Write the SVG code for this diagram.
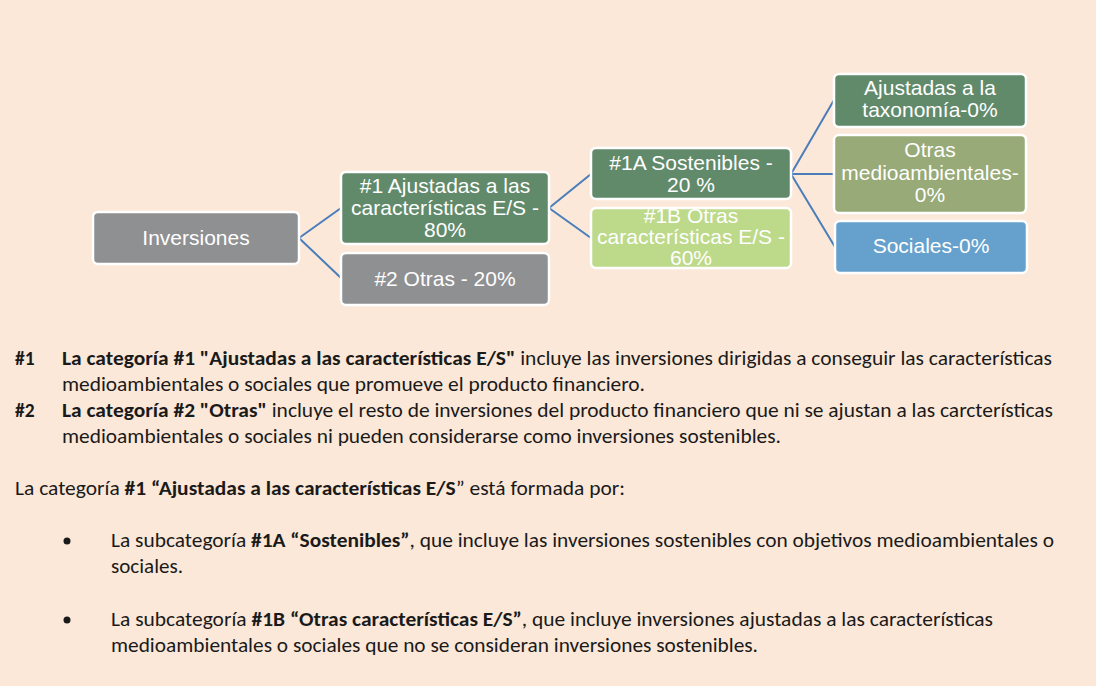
<svg xmlns="http://www.w3.org/2000/svg" width="1096" height="686" viewBox="0 0 1096 686">
<style>
.box{stroke:#FFFFFF;stroke-width:2.5}
.gray{fill:#8F9092}
.dg{fill:#618A6B}
.lg{fill:#BDD98A}
.ol{fill:#97AA77}
.bl{fill:#66A1CD}
.nt{font-family:"Liberation Sans",Arial,sans-serif;font-size:21px;fill:#FFFFFF;text-anchor:middle}
.con{stroke:#4A7EBB;stroke-width:2;fill:none}
.bt{font-family:Carlito,Calibri,Lato,"Open Sans",sans-serif;font-size:19.5px;fill:#1a1a1a}
.b{font-weight:bold}
</style>
<defs>
<clipPath id="c1b"><rect x="591" y="208" width="200" height="60" rx="5"/></clipPath>
</defs>
<rect x="0" y="0" width="1096" height="686" fill="#FBE8D8"/>
<g id="connectors">
<path class="con" d="M299,238 L341,208 M299,238 L341,278"/>
<path class="con" d="M549,208 L591,174 M549,208 L591,238"/>
<path class="con" d="M791,174 L834,100 M791,174 L834,174 M791,174 L835,247"/>
</g>
<g id="inversiones">
<rect class="box gray" x="93" y="212" width="206" height="52" rx="5"/>
<text class="nt" x="196" y="245">Inversiones</text>
</g>
<g id="n1">
<rect class="box dg" x="341" y="172" width="208" height="72" rx="5"/>
<text class="nt" x="445" y="193">#1 Ajustadas a las</text>
<text class="nt" x="445" y="215">características E/S -</text>
<text class="nt" x="445" y="237">80%</text>
</g>
<g id="n2">
<rect class="box gray" x="341" y="253" width="208" height="52" rx="5"/>
<text class="nt" x="445" y="286">#2 Otras - 20%</text>
</g>
<g id="n1a">
<rect class="box dg" x="591" y="148" width="200" height="51" rx="5"/>
<text class="nt" x="691" y="170">#1A Sostenibles -</text>
<text class="nt" x="691" y="192">20 %</text>
</g>
<g id="n1b">
<rect class="box lg" x="591" y="208" width="200" height="60" rx="5"/>
<g clip-path="url(#c1b)">
<text class="nt" x="691" y="223">#1B Otras</text>
<text class="nt" x="691" y="244">características E/S -</text>
<text class="nt" x="691" y="265">60%</text>
</g>
</g>
<g id="taxonomia">
<rect class="box dg" x="834" y="74" width="192" height="53" rx="5"/>
<text class="nt" x="930" y="95">Ajustadas a la</text>
<text class="nt" x="930" y="117">taxonomía-0%</text>
</g>
<g id="otras-medio">
<rect class="box ol" x="834" y="135" width="192" height="78" rx="5"/>
<text class="nt" x="930" y="157">Otras</text>
<text class="nt" x="930" y="180">medioambientales-</text>
<text class="nt" x="930" y="202">0%</text>
</g>
<g id="sociales">
<rect class="box bl" x="835" y="221" width="192" height="52" rx="5"/>
<text class="nt" x="931" y="253">Sociales-0%</text>
</g>
<g id="texto">
<text class="bt b" x="15" y="365">#1</text>
<text class="bt" x="62" y="365" textLength="990" lengthAdjust="spacingAndGlyphs"><tspan class="b">La categoría #1 "Ajustadas a las características E/S"</tspan> incluye las inversiones dirigidas a conseguir las características</text>
<text class="bt" x="62" y="391" textLength="583" lengthAdjust="spacingAndGlyphs">medioambientales o sociales que promueve el producto financiero.</text>
<text class="bt b" x="15" y="417">#2</text>
<text class="bt" x="62" y="417" textLength="991" lengthAdjust="spacingAndGlyphs"><tspan class="b">La categoría #2 "Otras"</tspan> incluye el resto de inversiones del producto financiero que ni se ajustan a las carcterísticas</text>
<text class="bt" x="62" y="443" textLength="719" lengthAdjust="spacingAndGlyphs">medioambientales o sociales ni pueden considerarse como inversiones sostenibles.</text>
<text class="bt" x="15" y="495" textLength="610" lengthAdjust="spacingAndGlyphs">La categoría <tspan class="b">#1 “Ajustadas a las características E/S</tspan>” está formada por:</text>
<circle cx="67" cy="541" r="3.5" fill="#1a1a1a"/>
<text class="bt" x="111" y="547" textLength="943" lengthAdjust="spacingAndGlyphs">La subcategoría <tspan class="b">#1A “Sostenibles”</tspan>, que incluye las inversiones sostenibles con objetivos medioambientales o</text>
<text class="bt" x="111" y="573" textLength="72" lengthAdjust="spacingAndGlyphs">sociales.</text>
<circle cx="67" cy="620" r="3.5" fill="#1a1a1a"/>
<text class="bt" x="111" y="626" textLength="882" lengthAdjust="spacingAndGlyphs">La subcategoría <tspan class="b">#1B “Otras características E/S”</tspan>, que incluye inversiones ajustadas a las características</text>
<text class="bt" x="111" y="652" textLength="647" lengthAdjust="spacingAndGlyphs">medioambientales o sociales que no se consideran inversiones sostenibles.</text>
</g>
</svg>
